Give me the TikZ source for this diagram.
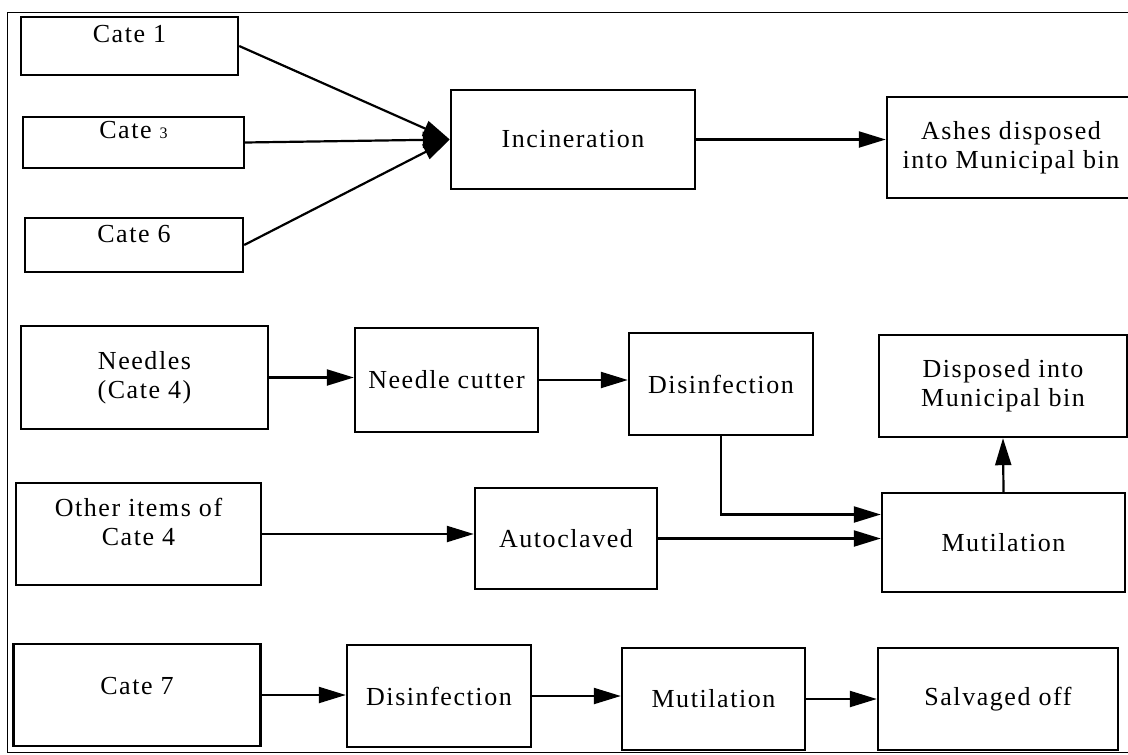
\documentclass[tikz,border=0pt]{standalone}
\usepackage{fontspec}
\setmainfont{Liberation Serif}[LetterSpace=6]
\usepackage{tikz}
\usetikzlibrary{positioning, arrows.meta}

\begin{document}
\begin{tikzpicture}[
    x=1pt, y=-1pt,
    font=\fontsize{26}{29}\selectfont,
    >={Triangle[length=27pt, width=16pt]},
    stepstyle/.style={draw=black, line width=2.4pt, inner sep=2pt, align=center},
    flow/.style={->, line width=2.2pt},
    framestyle/.style={draw=black, line width=1pt}
  ]
    \useasboundingbox (0,0) rectangle (1128,755);
    % outer frame, open on the right
    \draw[framestyle] (1140,12) -- (7,12) -- (7,752) -- (1140,752);

    % incineration line
    \node[stepstyle, minimum width=217pt, minimum height=58pt, text depth=24pt] (cate1) at (129.5,46) {Cate 1};
    \node[stepstyle, minimum width=221pt, minimum height=51pt, text depth=25pt] (cate3) at (133.5,142.5)
        {Cate {\fontsize{16}{16}\selectfont 3}};
    \node[stepstyle, minimum width=218pt, minimum height=54pt, text depth=23pt] (cate6) at (134,245) {Cate 6};
    \node[stepstyle, minimum width=244pt, minimum height=99pt] (incin) at (573,139.5) {Incineration};
    \node[stepstyle, minimum width=248pt, minimum height=101pt] (ashes) at (1011,147.5)
        {Ashes disposed\\into Municipal bin};
    \draw[flow] (cate1.east) -- (incin.west);
    \draw[flow] (cate3.east) -- (incin.west);
    \draw[flow] (cate6.east) -- (incin.west);
    \draw[flow] (incin.east) -- (incin.east -| ashes.west);

    % needles and other items of cate 4
    \node[stepstyle, minimum width=247pt, minimum height=103pt] (needles) at (144.5,377.5) {Needles\\(Cate 4)};
    \node[stepstyle, minimum width=183pt, minimum height=104pt] (cutter) at (446.5,380) {Needle cutter};
    \node[stepstyle, minimum width=184pt, minimum height=102pt] (disinf) at (721,384) {Disinfection};
    \node[stepstyle, minimum width=248pt, minimum height=102pt] (disposal) at (1003,386)
        {Disposed into\\Municipal bin};
    \node[stepstyle, minimum width=245pt, minimum height=102pt, text depth=24pt] (other) at (138.5,534)
        {Other items of\\Cate 4};
    \node[stepstyle, minimum width=182pt, minimum height=101pt] (autoclave) at (566,538.5) {Autoclaved};
    \node[stepstyle, minimum width=243pt, minimum height=99pt] (mutil) at (1003.5,542.5) {Mutilation};
    \draw[flow] (needles.east) -- (needles.east -| cutter.west);
    \draw[flow] (cutter.east) -- (cutter.east -| disinf.west);
    \draw[flow] (disinf.south) |- ([yshift=28pt]mutil.west);
    \draw[flow] (other.east) -- (other.east -| autoclave.west);
    \draw[flow] (autoclave.east) -- (autoclave.east -| mutil.west);
    \draw[flow] (mutil.north) -- (disposal.south);

    % cate 7 line
    \node[stepstyle, minimum width=247pt, minimum height=102pt, text depth=18pt] (cate7) at (137,695) {Cate 7};
    \node[stepstyle, minimum width=184pt, minimum height=102pt] (disinfB) at (439,696) {Disinfection};
    \node[stepstyle, minimum width=183pt, minimum height=102pt] (mutilB) at (713.5,699) {Mutilation};
    \node[stepstyle, minimum width=240pt, minimum height=102pt] (salvage) at (998,699) {Salvaged off};
    \draw[flow] (cate7.east) -- (cate7.east -| disinfB.west);
    \draw[flow] (disinfB.east) -- (disinfB.east -| mutilB.west);
    \draw[flow] (mutilB.east) -- (mutilB.east -| salvage.west);
\end{tikzpicture}
\end{document}
